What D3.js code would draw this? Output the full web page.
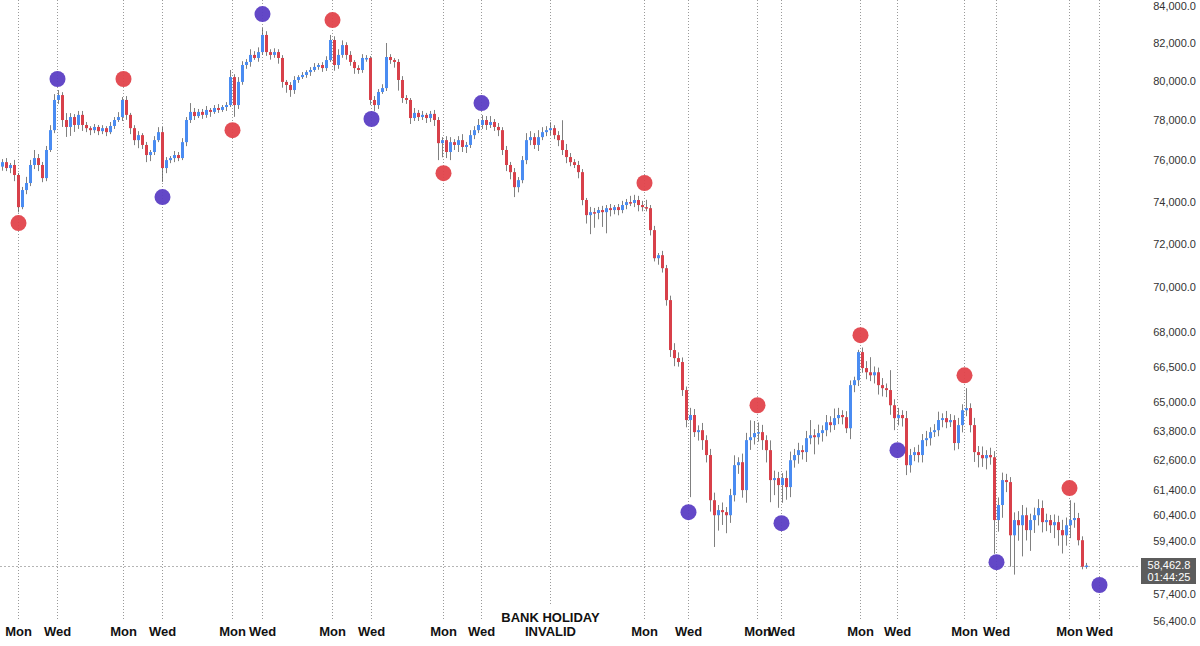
<!DOCTYPE html>
<html>
<head>
<meta charset="utf-8">
<script src="https://cdn.jsdelivr.net/npm/d3@7"></script>
<style>
    html, body { margin: 0; padding: 0; background: #fff; }
    svg { display: block; font-family: "Liberation Sans", Arial, sans-serif; }
</style>
</head>
<body>
<div id="chart"></div>
<script>
// price data, one candle per bar (open = previous close)
const firstOpen = 75700;
const closes = [
    75920, 75630, 75780, 75290, 73740, 74560, 74900, 75780, 76120, 75780,
    75140, 76520, 77510, 79040, 79290, 78020, 77670, 78170, 77770, 78280,
    77770, 77610, 77510, 77670, 77460, 77610, 77410, 77720, 78020, 78170,
    79040, 78280, 77610, 77010, 77260, 76770, 76270, 76420, 77010, 77410,
    75630, 76020, 76120, 76270, 76120, 76910, 78020, 78430, 78220, 78430,
    78280, 78530, 78430, 78630, 78530, 78680, 78780, 80220, 78780, 79970,
    80850, 81010, 81380, 81220, 81530, 82440, 81530, 81380, 81530, 81220,
    79970, 79810, 79550, 80070, 80220, 80330, 80480, 80590, 80750, 80850,
    80690, 81110, 82170, 80850, 81380, 81900, 81380, 81010, 80690, 80590,
    81220, 81220, 79040, 78780, 79450, 79650, 81270, 81110, 81010, 80070,
    79140, 79040, 78120, 78380, 78170, 78280, 78120, 78330, 78020, 76860,
    77010, 76420, 76910, 76770, 77010, 76670, 76770, 77260, 77510, 77770,
    78020, 77770, 77920, 77670, 77510, 76520, 75780, 75430, 74700, 75040,
    76020, 77010, 77160, 76770, 77160, 77410, 77510, 77610, 77260, 77010,
    76520, 76170, 75920, 75780, 75430, 74080, 73360, 73500, 73460, 73600,
    73500, 73690, 73600, 73740, 73600, 73840, 73980, 73940, 74080, 73840,
    73740, 73690, 72650, 71340, 71480, 70880, 69430, 67220, 66870, 66700,
    65500, 64240, 64450, 63740, 63820, 63410, 62800, 60990, 60400, 60600,
    60520, 60400, 61190, 62390, 62510, 61390, 63410, 63530, 63700, 63740,
    63410, 63000, 61790, 61870, 61590, 61870, 61510, 62590, 62800, 63000,
    62920, 63490, 63610, 63530, 63700, 63820, 64150, 64030, 64320, 64450,
    64360, 63900, 65710, 65920, 67130, 66440, 66260, 66130, 66260, 65710,
    65580, 65500, 64860, 64320, 64450, 64320, 62390, 62800, 62920, 62800,
    63410, 63490, 63740, 63820, 64240, 64320, 64150, 64240, 63290, 64030,
    64650, 64740, 64030, 62920, 62800, 62670, 62800, 62710, 60210, 60800,
    61790, 61710, 59620, 60210, 60010, 60400, 59820, 60210, 60400, 60680,
    60130, 60210, 60010, 60130, 59820, 59620, 60010, 60210, 60290, 59430,
    58420, 58462.8
];
// wick length above the body top / below the body bottom
const wickHi = [
    150, 200, 100, 250, 100, 150, 300, 250, 400, 200,
    150, 200, 250, 300, 260, 150, 350, 200, 150, 200,
    200, 150, 100, 150, 100, 150, 100, 200, 150, 250,
    150, 200, 100, 150, 200, 100, 150, 100, 200, 250,
    260, 150, 100, 200, 150, 200, 150, 450, 200, 150,
    150, 200, 100, 150, 200, 100, 150, 370, 150, 250,
    200, 150, 300, 200, 250, 370, 200, 150, 200, 150,
    150, 100, 150, 200, 100, 150, 100, 150, 200, 100,
    150, 200, 270, 200, 300, 250, 150, 200, 100, 150,
    200, 150, 100, 200, 150, 200, 740, 150, 100, 150,
    200, 150, 100, 250, 150, 200, 100, 150, 200, 150,
    150, 200, 250, 150, 200, 300, 150, 250, 200, 300,
    250, 200, 300, 150, 200, 150, 200, 150, 200, 150,
    200, 350, 300, 200, 350, 250, 200, 300, 150, 200,
    1000, 300, 200, 150, 200, 150, 100, 250, 200, 150,
    200, 150, 200, 100, 150, 200, 150, 300, 250, 200,
    200, 350, 150, 200, 100, 200, 150, 200, 300, 250,
    200, 150, 300, 250, 200, 300, 200, 250, 300, 200,
    300, 200, 250, 400, 200, 350, 300, 700, 500, 400,
    300, 200, 400, 300, 250, 200, 300, 350, 250, 300,
    200, 300, 630, 250, 350, 200, 300, 250, 400, 300,
    200, 250, 200, 150, 100, 200, 300, 650, 250, 200,
    300, 200, 850, 250, 300, 200, 300, 250, 200, 300,
    250, 300, 200, 250, 350, 200, 300, 250, 200, 300,
    250, 840, 200, 300, 250, 350, 200, 300, 250, 300,
    300, 250, 200, 300, 350, 400, 300, 250, 300, 350,
    300, 250, 200, 300, 250, 400, 300, 780, 600, 200,
    150, 100
];
const wickLo = [
    200, 150, 250, 300, 250, 100, 200, 150, 200, 300,
    200, 150, 100, 150, 200, 350, 500, 450, 350, 200,
    300, 200, 250, 150, 200, 150, 200, 100, 150, 100,
    200, 250, 300, 250, 400, 200, 350, 300, 150, 100,
    680, 250, 150, 200, 150, 100, 200, 150, 200, 100,
    200, 150, 250, 100, 150, 100, 200, 100, 600, 200,
    150, 200, 250, 100, 200, 150, 200, 250, 150, 300,
    300, 400, 350, 200, 150, 100, 150, 200, 100, 150,
    200, 150, 100, 300, 200, 150, 250, 200, 300, 200,
    150, 200, 250, 300, 200, 100, 150, 200, 300, 550,
    250, 200, 300, 150, 200, 150, 250, 200, 300, 840,
    700, 300, 400, 250, 350, 250, 300, 150, 200, 150,
    200, 250, 150, 200, 300, 250, 300, 350, 480, 250,
    150, 200, 250, 200, 300, 150, 200, 250, 200, 300,
    250, 300, 200, 150, 300, 250, 400, 900, 700, 300,
    700, 1000, 300, 200, 250, 150, 200, 150, 200, 300,
    200, 150, 250, 150, 300, 200, 250, 300, 350, 200,
    250, 300, 3130, 200, 350, 400, 300, 450, 1230, 600,
    500, 700, 300, 250, 350, 300, 500, 400, 300, 350,
    400, 500, 880, 600, 900, 700, 500, 400, 300, 350,
    300, 400, 250, 700, 300, 350, 250, 300, 200, 250,
    300, 200, 450, 300, 250, 200, 300, 250, 350, 400,
    350, 300, 400, 500, 300, 350, 400, 300, 250, 300,
    300, 250, 300, 200, 250, 300, 250, 200, 300, 250,
    300, 250, 300, 400, 500, 350, 450, 300, 1300, 450,
    500, 400, 1200, 1500, 600, 1200, 400, 800, 500, 400,
    400, 350, 300, 500, 600, 700, 400, 500, 300, 200,
    100, 80
];

// session markers (bar position) and the swing dot placed on each
const dayLabels = ["Mon", "Wed", "Mon", "Wed", "Mon", "Wed", "Mon", "Wed", "Mon", "Wed",
    "Mon", "Wed", "Mon", "Wed", "Mon", "Wed", "Mon", "Wed", "Mon", "Wed"];
const dayPos = [4, 13.75, 30.25, 40, 57.5, 65, 82.5, 92.25, 110.25, 119.75,
    160.5, 171.5, 188.75, 194.75, 214.5, 223.75, 240.5, 248.5, 266.75, 274.25];
const dotPrice = [72980, 80120, 80120, 74220, 77510, 83560, 83240, 78070, 75380, 78880,
    74900, 60520, 64860, 60090, 67870, 63000, 66130, 58590, 61470, 57730];
const holidayPos = 137;
const holidayLabel = ["BANK HOLIDAY", "INVALID"];

const yTicks = [84000, 82000, 80000, 78000, 76000, 74000, 72000, 70000, 68000, 66500,
    65000, 63800, 62600, 61400, 60400, 59400, 57400, 56400];
const lastPrice = 58462.8;
const countdown = "01:44:25";

const width = 1200, height = 646;
const upColor = "#4a8cf2", downColor = "#d8404a";
const monColor = "#e2434b", wedColor = "#5b3ec4";

const svg = d3.select("#chart").append("svg")
    .attr("width", width)
    .attr("height", height);

const x = d3.scaleLinear().domain([-0.5, 299.5]).range([0, 1200]);
const y = d3.scaleLog().domain([56400, 84000]).range([621, 6]);

const candles = closes.map((c, i) => {
    const o = i === 0 ? firstOpen : closes[i - 1];
    return {
        i: i,
        open: o,
        close: c,
        high: Math.max(o, c) + wickHi[i],
        low: Math.min(o, c) - wickLo[i]
    };
});

// vertical session lines
const gridG = svg.append("g");
gridG.selectAll("line.day")
    .data(dayPos)
    .join("line")
    .attr("class", "day")
    .attr("x1", d => Math.round(x(d)) + 0.5)
    .attr("x2", d => Math.round(x(d)) + 0.5)
    .attr("y1", 0)
    .attr("y2", 620)
    .attr("stroke", "#9a9a9a")
    .attr("stroke-dasharray", "1,2");

gridG.append("line")
    .attr("x1", Math.round(x(holidayPos)) + 0.5)
    .attr("x2", Math.round(x(holidayPos)) + 0.5)
    .attr("y1", 0)
    .attr("y2", 605)
    .attr("stroke", "#9a9a9a")
    .attr("stroke-dasharray", "1,2");

// last price line
gridG.append("line")
    .attr("x1", 0)
    .attr("x2", 1140)
    .attr("y1", Math.round(y(lastPrice)) + 0.5)
    .attr("y2", Math.round(y(lastPrice)) + 0.5)
    .attr("stroke", "#b5b5b5")
    .attr("stroke-dasharray", "2,2");

// candles
const candleG = svg.append("g");
candleG.selectAll("line.wick")
    .data(candles)
    .join("line")
    .attr("class", "wick")
    .attr("x1", d => x(d.i) + 0.5)
    .attr("x2", d => x(d.i) + 0.5)
    .attr("y1", d => y(d.high))
    .attr("y2", d => y(d.low))
    .attr("stroke", "#555")
    .attr("stroke-opacity", 0.75)
    .attr("stroke-width", 1);

candleG.selectAll("rect.body")
    .data(candles)
    .join("rect")
    .attr("class", "body")
    .attr("x", d => x(d.i) - 1)
    .attr("width", 3)
    .attr("y", d => y(Math.max(d.open, d.close)))
    .attr("height", d => Math.max(1.5, Math.abs(y(d.open) - y(d.close))))
    .attr("fill", d => d.close >= d.open ? upColor : downColor);

// swing dots
svg.append("g")
    .selectAll("circle")
    .data(dayPos)
    .join("circle")
    .attr("cx", d => x(d) + 0.5)
    .attr("cy", (d, k) => y(dotPrice[k]))
    .attr("r", 8)
    .attr("fill", (d, k) => dayLabels[k] === "Mon" ? monColor : wedColor)
    .attr("fill-opacity", 0.95);

// day labels
const labelG = svg.append("g")
    .attr("font-size", "13px")
    .attr("font-weight", "bold")
    .attr("fill", "#111")
    .attr("text-anchor", "middle");

labelG.selectAll("text.day")
    .data(dayPos)
    .join("text")
    .attr("class", "day")
    .attr("x", d => x(d) + 0.5)
    .attr("y", 636)
    .text((d, k) => dayLabels[k]);

labelG.selectAll("text.hol")
    .data(holidayLabel)
    .join("text")
    .attr("class", "hol")
    .attr("x", x(holidayPos) + 0.5)
    .attr("y", (d, k) => 622 + k * 14)
    .text(d => d);

// price axis
const fmt = d3.format(",.1f");
svg.append("g")
    .selectAll("text")
    .data(yTicks)
    .join("text")
    .attr("x", 1196)
    .attr("y", d => y(d))
    .attr("dy", "0.35em")
    .attr("text-anchor", "end")
    .attr("font-size", "11px")
    .attr("fill", "#333")
    .text(d => fmt(d));

// last price tag
const tag = svg.append("g");
tag.append("rect")
    .attr("x", 1141)
    .attr("y", 558)
    .attr("width", 55)
    .attr("height", 26)
    .attr("fill", "#5c5c5c");
tag.selectAll("text")
    .data([fmt(lastPrice), countdown])
    .join("text")
    .attr("x", 1169)
    .attr("y", (d, k) => 569 + k * 12)
    .attr("text-anchor", "middle")
    .attr("font-size", "11px")
    .attr("fill", "#fff")
    .text(d => d);
</script>
</body>
</html>
